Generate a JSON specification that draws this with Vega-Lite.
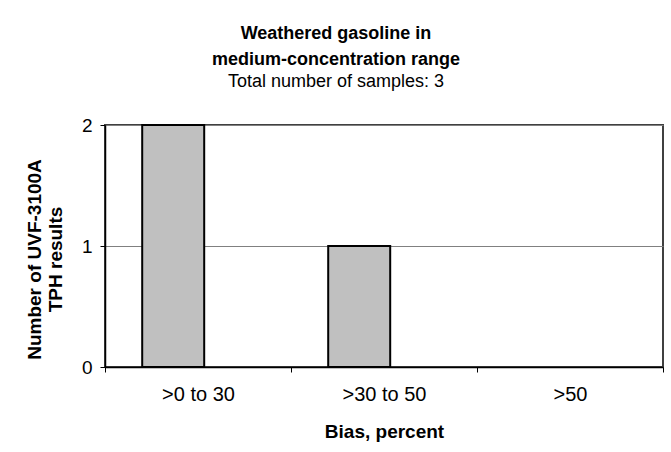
{
  "$schema": "https://vega.github.io/schema/vega-lite/v6.json",
  "width": 558,
  "height": 242,
  "autosize": "none",
  "padding": {"left": 105, "top": 125, "right": 8, "bottom": 85},
  "background": "white",
  "data": {
    "values": [
      {"bias": ">0 to 30", "series": "UVF-3100A", "count": 2},
      {"bias": ">30 to 50", "series": "UVF-3100A", "count": 1},
      {"bias": ">50", "series": "UVF-3100A", "count": 0}
    ]
  },
  "title": {
    "text": ["Weathered gasoline in", "medium-concentration range"],
    "subtitle": "Total number of samples: 3",
    "anchor": "middle",
    "frame": "group",
    "dx": -48,
    "font": "Liberation Sans",
    "fontSize": 18,
    "fontWeight": "bold",
    "lineHeight": 26,
    "subtitleFont": "Liberation Sans",
    "subtitleFontSize": 18,
    "subtitleColor": "black",
    "subtitleLineHeight": 22,
    "subtitlePadding": 4,
    "color": "black",
    "offset": 25
  },
  "mark": {"type": "bar", "fill": "#c0c0c0", "strokeWidth": 2},
  "encoding": {
    "x": {
      "field": "bias",
      "type": "nominal",
      "sort": [">0 to 30", ">30 to 50", ">50"],
      "scale": {"padding": 0},
      "axis": {
        "title": "Bias, percent",
        "labelAngle": 0,
        "tickBand": "extent",
        "tickSize": 5,
        "tickColor": "black",
        "domainColor": "black",
        "domainWidth": 1.5,
        "labelPadding": 12,
        "titlePadding": 18,
        "labelFontSize": 20
      }
    },
    "xOffset": {
      "field": "series",
      "type": "nominal",
      "scale": {"paddingInner": 0, "paddingOuter": 1.255, "align": 0.3}
    },
    "y": {
      "field": "count",
      "type": "quantitative",
      "scale": {"domain": [0, 2], "nice": false},
      "axis": {
        "title": ["Number of UVF-3100A", "TPH results"],
        "values": [0, 1, 2],
        "labelExpr": "'' + datum.value",
        "tickSize": 5,
        "tickColor": "black",
        "domainColor": "black",
        "domainWidth": 1.5,
        "labelPadding": 8,
        "titlePadding": 16,
        "titleY": 134,
        "grid": true,
        "gridColor": "#808080",
        "gridWidth": 1
      }
    },
    "stroke": {
      "condition": {"test": "datum.count == 0", "value": null},
      "value": "black"
    }
  },
  "config": {
    "view": {"stroke": "#404040", "strokeWidth": 2},
    "axis": {
      "labelFont": "Liberation Sans",
      "labelFontSize": 19,
      "labelColor": "black",
      "titleFont": "Liberation Sans",
      "titleFontSize": 19,
      "titleFontWeight": "bold",
      "titleColor": "black",
      "titleLineHeight": 21
    }
  }
}
